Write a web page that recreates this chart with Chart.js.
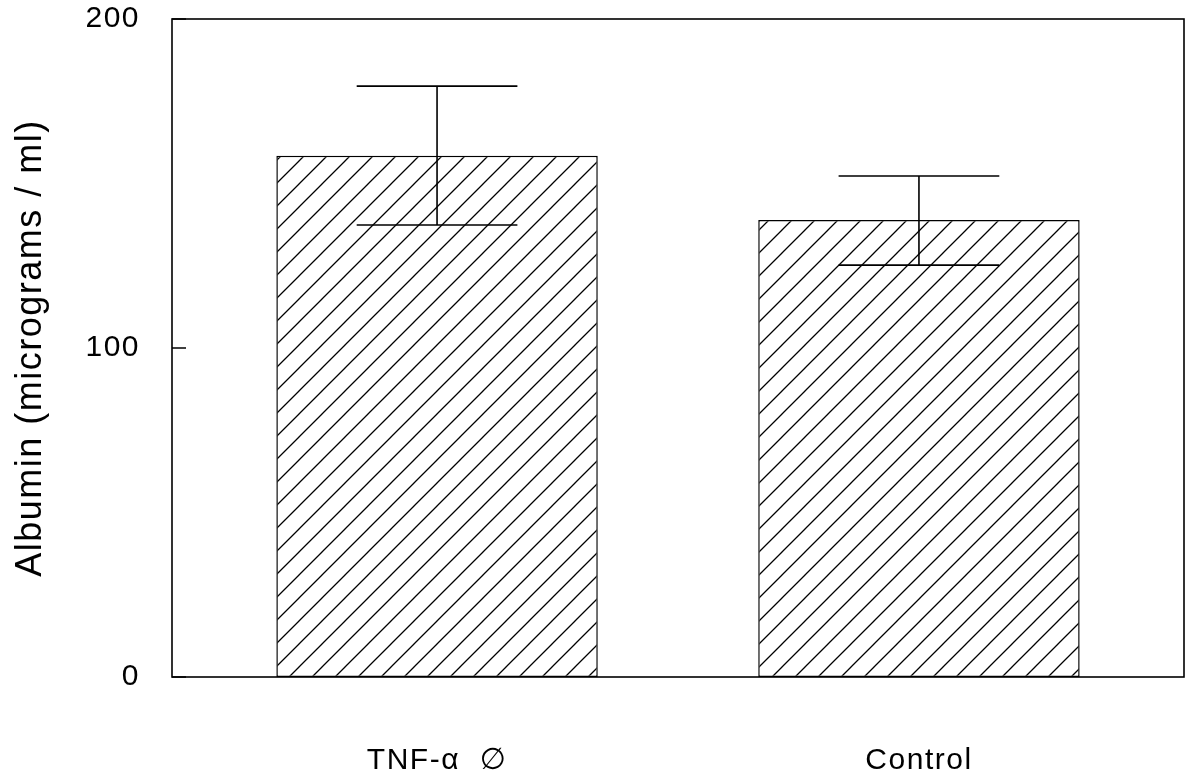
<!DOCTYPE html>
<html lang="en">
<head>
    <meta charset="UTF-8">
    <title>Albumin</title>
    <script src="https://cdn.jsdelivr.net/npm/chart.js"></script>
    <style>
        body{margin:0;background:#fff;}
    </style>
</head>
<body>
    <canvas id="myChart" width="1191" height="782"></canvas>
<script>
    // values
    const categories = ['TNF-α  ∅', 'Control']
    const albumin = [158.4, 138.9]
    const errHigh = [179.6, 152.3]
    const errLow = [137.4, 125.2]
    const yTicks = [0, 100, 200]

    const fonte = '"Liberation Sans", Arial, "DejaVu Sans", sans-serif'

    function hachura(){
        var tam = 23
        var c = document.createElement('canvas')
        c.width = tam
        c.height = tam
        var g = c.getContext('2d')
        g.fillStyle = '#fff'
        g.fillRect(0, 0, tam, tam)
        g.strokeStyle = '#000'
        g.lineWidth = 1.3
        g.beginPath()
        g.moveTo(0, tam); g.lineTo(tam, 0)
        g.moveTo(-2, 2); g.lineTo(2, -2)
        g.moveTo(tam-2, tam+2); g.lineTo(tam+2, tam-2)
        g.stroke()
        return g.createPattern(c, 'repeat')
    }

    // the original lettering is slightly spaced out
    const espacamento = {
        id: 'espacamento',
        beforeUpdate(chart){ chart.ctx.letterSpacing = '1.5px' },
        beforeDraw(chart){ chart.ctx.letterSpacing = '1.5px' }
    }

    const errorBars = {
        id: 'errorBars',
        afterDatasetsDraw(chart){
            const ctx = chart.ctx
            const y = chart.scales.y
            const meta = chart.getDatasetMeta(0)
            ctx.save()
            ctx.strokeStyle = '#000'
            ctx.lineWidth = 1.6
            meta.data.forEach((bar, i)=>{
                const cx = bar.x
                const meio = bar.width / 4
                const yt = y.getPixelForValue(errHigh[i])
                const yb = y.getPixelForValue(errLow[i])
                ctx.beginPath()
                ctx.moveTo(cx, yt); ctx.lineTo(cx, yb)
                ctx.moveTo(cx - meio, yt); ctx.lineTo(cx + meio, yt)
                ctx.moveTo(cx - meio, yb); ctx.lineTo(cx + meio, yb)
                ctx.stroke()
            })
            ctx.restore()
        }
    }

    const moldura = {
        id: 'moldura',
        afterDraw(chart){
            const ctx = chart.ctx
            const a = chart.chartArea
            const y = chart.scales.y
            ctx.save()
            ctx.strokeStyle = '#000'
            ctx.lineWidth = 1.6
            ctx.strokeRect(a.left, a.top, a.right - a.left, a.bottom - a.top)
            ctx.beginPath()
            y.ticks.forEach(t=>{
                const py = y.getPixelForValue(t.value)
                ctx.moveTo(a.left, py); ctx.lineTo(a.left + 14, py)
            })
            ctx.stroke()
            ctx.restore()
        }
    }

    const ctx = document.getElementById('myChart')

    const grafico = new Chart(ctx, {
        type: 'bar',
        data: {
            datasets: [{
                label: 'Albumin',
                data: albumin.map((v, i)=>({x: i, y: v})),
                backgroundColor: hachura(),
                borderColor: '#000',
                borderWidth: 1.5,
                borderSkipped: false,
                barPercentage: 0.667,
                categoryPercentage: 1
            }]
        },
        options: {
            responsive: false,
            animation: false,
            layout: { padding: { top: 19, right: 7, left: 0, bottom: 0 } },
            plugins: {
                legend: { display: false },
                tooltip: { enabled: false }
            },
            scales: {
                x: {
                    type: 'linear',
                    min: -0.55,
                    max: 1.55,
                    offset: false,
                    afterBuildTicks: s=>{ s.ticks = categories.map((c, i)=>({value: i})) },
                    afterFit: s=>{
                        s.height = 105
                        s.paddingLeft = 0
                        s.paddingRight = 0
                    },
                    grid: { display: false, drawTicks: false },
                    border: { display: false },
                    ticks: {
                        padding: 66,
                        color: '#000',
                        maxRotation: 0,
                        font: { family: fonte, size: 30 },
                        callback: v=>categories[v]
                    }
                },
                y: {
                    min: 0,
                    max: 200,
                    afterBuildTicks: s=>{ s.ticks = yTicks.map(v=>({value: v})) },
                    afterFit: s=>{
                        s.width = 172
                        s.paddingTop = 0
                        s.paddingBottom = 0
                    },
                    grid: { display: false, drawTicks: false },
                    border: { display: false },
                    ticks: {
                        padding: 32,
                        color: '#000',
                        font: { family: fonte, size: 30 }
                    },
                    title: {
                        display: true,
                        text: 'Albumin (micrograms / ml)',
                        color: '#000',
                        font: { family: fonte, size: 36 },
                        padding: { top: 9, bottom: 0 }
                    }
                }
            }
        },
        plugins: [espacamento, errorBars, moldura]
    })
</script>
</body>
</html>
